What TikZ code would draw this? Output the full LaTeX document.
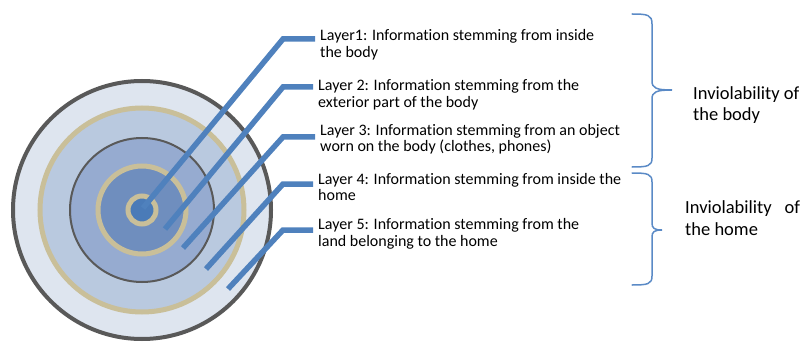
\documentclass[tikz,border=0pt]{standalone}
\usepackage{fontspec}
\setmainfont{Carlito}[Ligatures=NoCommon]
\definecolor{ringA}{HTML}{DEE5EF}
\definecolor{ringB}{HTML}{B9C9DF}
\definecolor{ringC}{HTML}{96ABD0}
\definecolor{ringD}{HTML}{6F8EBE}
\definecolor{ringE}{HTML}{4A7BB8}
\definecolor{tan}{HTML}{C9BF99}
\definecolor{rim}{HTML}{595959}
\definecolor{leadblue}{HTML}{4F81BD}
\definecolor{braceblue}{HTML}{5A8AC6}
\tikzset{
  leader/.style={draw=leadblue, line width=5.5pt, line join=miter},
  layertext/.style={font=\fontsize{16}{16.5}\selectfont, align=left, anchor=base west, inner sep=0pt},
  sidetext/.style={font=\fontsize{18.5}{21.5}\selectfont, align=left, anchor=base west, inner sep=0pt},
  bracket/.style={draw=braceblue, line width=1.5pt, line cap=round}
}
\begin{document}
\begin{tikzpicture}[x=1pt,y=-1pt]
\useasboundingbox (0,0) rectangle (803,342);
% concentric layers
\coordinate (o) at (142,210);
\fill[ringA] (o) circle (129);
\draw[rim, line width=4pt] (o) circle (129);
\fill[ringB] (o) circle (102);
\draw[tan, line width=5pt] (o) circle (102);
\fill[ringC] (o) circle (72);
\draw[rim, line width=2pt] (o) circle (72);
\fill[ringD] (o) circle (44);
\draw[tan, line width=5pt] (o) circle (44);
\fill[ringE] (o) circle (14);
\draw[tan, line width=5pt] (o) circle (14);

% layer labels (positioned by the baseline of their last line)
\node[layertext] (L1) at (320,57.3) {Layer1: Information stemming from inside\\the body};
\node[layertext] (L2) at (318,107.3) {Layer 2: Information stemming from the\\exterior part of the body};
\node[layertext] (L3) at (320,151.7) {Layer 3: Information stemming from an object\\worn on the body (clothes, phones)};
\node[layertext] (L4) at (318,200.7) {Layer 4: Information stemming from inside the\\home};
\node[layertext] (L5) at (318,246) {Layer 5: Information stemming from the\\land belonging to the home};

% leader lines
\coordinate (s1) at (143,208);  \coordinate (k1) at (283,39);
\coordinate (s2) at (165,229);  \coordinate (k2) at (283,87);
\coordinate (s3) at (183,248);  \coordinate (k3) at (283,137);
\coordinate (s4) at (206,269);  \coordinate (k4) at (283,184);
\coordinate (s5) at (228,289);  \coordinate (k5) at (283,230);
\draw[leader] (s1) -- (k1) -- ([xshift=-5pt]k1 -| L1.west);
\draw[leader] (s2) -- (k2) -- ([xshift=-5pt]k2 -| L2.west);
\draw[leader] (s3) -- (k3) -- ([xshift=-5pt]k3 -| L3.west);
\draw[leader] (s4) -- (k4) -- ([xshift=-5pt]k4 -| L4.west);
\draw[leader] (s5) -- (k5) -- ([xshift=-5pt]k5 -| L5.west);

% braces
\draw[bracket] (632,14) .. controls (648,14) and (652,15) .. (652,24) -- (652,81)
  .. controls (652,88) and (656,90) .. (672,90)
  .. controls (656,90) and (652,92) .. (652,99) -- (652,158)
  .. controls (652,166) and (648,167) .. (632,167);
\draw[bracket] (632,173) .. controls (648,173) and (652,174) .. (652,182) -- (652,223)
  .. controls (652,228) and (654,230) .. (662,230)
  .. controls (654,230) and (652,232) .. (652,237) -- (652,276)
  .. controls (652,284) and (648,285) .. (632,285);

% group labels
\node[sidetext] (G1) at (693,120.7) {Inviolability of\\the body};
\node[sidetext] (G2) at (685,235) {\makebox[115pt][s]{Inviolability of}\\the home};
\end{tikzpicture}
\end{document}
